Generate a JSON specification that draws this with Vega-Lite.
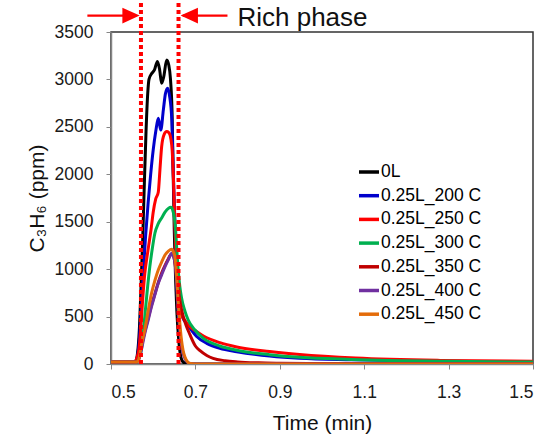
{
  "$schema": "https://vega.github.io/schema/vega-lite/v6.json",
  "width": 422,
  "height": 332,
  "autosize": {"type": "none"},
  "padding": {"left": 111, "top": 32, "right": 19, "bottom": 76},
  "config": {
    "font": "Liberation Sans",
    "view": {"stroke": "#333", "strokeWidth": 1.5},
    "axis": {
      "grid": false,
      "domainColor": "#868686",
      "domainWidth": 1.5,
      "tickColor": "#868686",
      "tickWidth": 1,
      "tickSize": 5,
      "labelFont": "Liberation Sans",
      "labelFontSize": 17.5,
      "labelColor": "#1a1a1a",
      "titleFont": "Liberation Sans",
      "titleFontSize": 21,
      "titleFontWeight": "normal",
      "titleColor": "#111"
    }
  },
  "datasets": {
    "curves": [
      {"s":"0L","t":0.5,"v":20},{"s":"0L","t":0.54,"v":20},{"s":"0L","t":0.558,"v":25},{"s":"0L","t":0.563,"v":120},{"s":"0L","t":0.567,"v":350},{"s":"0L","t":0.571,"v":800},{"s":"0L","t":0.575,"v":1300},{"s":"0L","t":0.579,"v":1900},{"s":"0L","t":0.583,"v":2450},{"s":"0L","t":0.587,"v":2850},{"s":"0L","t":0.59,"v":3000},{"s":"0L","t":0.596,"v":3060},{"s":"0L","t":0.603,"v":3100},{"s":"0L","t":0.61,"v":3190},{"s":"0L","t":0.615,"v":3110},{"s":"0L","t":0.62,"v":2960},{"s":"0L","t":0.625,"v":3030},{"s":"0L","t":0.632,"v":3205},{"s":"0L","t":0.637,"v":3150},{"s":"0L","t":0.641,"v":3000},{"s":"0L","t":0.645,"v":2600},{"s":"0L","t":0.647,"v":2080},{"s":"0L","t":0.65,"v":1400},{"s":"0L","t":0.653,"v":900},{"s":"0L","t":0.656,"v":560},{"s":"0L","t":0.66,"v":280},{"s":"0L","t":0.664,"v":110},{"s":"0L","t":0.67,"v":25},{"s":"0L","t":0.68,"v":3},{"s":"0L","t":0.7,"v":0},{"s":"0L","t":1.5,"v":0},

      {"s":"0.25L_200 C","t":0.5,"v":20},{"s":"0.25L_200 C","t":0.555,"v":20},{"s":"0.25L_200 C","t":0.562,"v":60},{"s":"0.25L_200 C","t":0.567,"v":250},{"s":"0.25L_200 C","t":0.572,"v":600},{"s":"0.25L_200 C","t":0.577,"v":1000},{"s":"0.25L_200 C","t":0.582,"v":1350},{"s":"0.25L_200 C","t":0.588,"v":1700},{"s":"0.25L_200 C","t":0.594,"v":2000},{"s":"0.25L_200 C","t":0.6,"v":2256},{"s":"0.25L_200 C","t":0.606,"v":2450},{"s":"0.25L_200 C","t":0.612,"v":2590},{"s":"0.25L_200 C","t":0.618,"v":2466},{"s":"0.25L_200 C","t":0.624,"v":2677},{"s":"0.25L_200 C","t":0.629,"v":2850},{"s":"0.25L_200 C","t":0.634,"v":2906},{"s":"0.25L_200 C","t":0.639,"v":2820},{"s":"0.25L_200 C","t":0.644,"v":2580},{"s":"0.25L_200 C","t":0.647,"v":2100},{"s":"0.25L_200 C","t":0.65,"v":1700},{"s":"0.25L_200 C","t":0.653,"v":1300},{"s":"0.25L_200 C","t":0.656,"v":1000},{"s":"0.25L_200 C","t":0.66,"v":750},{"s":"0.25L_200 C","t":0.665,"v":580},{"s":"0.25L_200 C","t":0.671,"v":480},{"s":"0.25L_200 C","t":0.679,"v":430},{"s":"0.25L_200 C","t":0.687,"v":380},{"s":"0.25L_200 C","t":0.703,"v":290},{"s":"0.25L_200 C","t":0.727,"v":218},{"s":"0.25L_200 C","t":0.758,"v":165},{"s":"0.25L_200 C","t":0.798,"v":130},{"s":"0.25L_200 C","t":0.876,"v":84},{"s":"0.25L_200 C","t":0.947,"v":60},{"s":"0.25L_200 C","t":1.07,"v":45},{"s":"0.25L_200 C","t":1.2,"v":35},{"s":"0.25L_200 C","t":1.3,"v":30},{"s":"0.25L_200 C","t":1.5,"v":22},

      {"s":"0.25L_250 C","t":0.5,"v":22},{"s":"0.25L_250 C","t":0.555,"v":22},{"s":"0.25L_250 C","t":0.561,"v":60},{"s":"0.25L_250 C","t":0.566,"v":150},{"s":"0.25L_250 C","t":0.571,"v":400},{"s":"0.25L_250 C","t":0.575,"v":675},{"s":"0.25L_250 C","t":0.58,"v":950},{"s":"0.25L_250 C","t":0.586,"v":1150},{"s":"0.25L_250 C","t":0.591,"v":1300},{"s":"0.25L_250 C","t":0.595,"v":1420},{"s":"0.25L_250 C","t":0.6,"v":1600},{"s":"0.25L_250 C","t":0.606,"v":1740},{"s":"0.25L_250 C","t":0.612,"v":1810},{"s":"0.25L_250 C","t":0.616,"v":2050},{"s":"0.25L_250 C","t":0.62,"v":2290},{"s":"0.25L_250 C","t":0.626,"v":2420},{"s":"0.25L_250 C","t":0.632,"v":2450},{"s":"0.25L_250 C","t":0.637,"v":2440},{"s":"0.25L_250 C","t":0.642,"v":2370},{"s":"0.25L_250 C","t":0.645,"v":2250},{"s":"0.25L_250 C","t":0.648,"v":1950},{"s":"0.25L_250 C","t":0.651,"v":1500},{"s":"0.25L_250 C","t":0.654,"v":1150},{"s":"0.25L_250 C","t":0.657,"v":860},{"s":"0.25L_250 C","t":0.66,"v":700},{"s":"0.25L_250 C","t":0.664,"v":580},{"s":"0.25L_250 C","t":0.668,"v":510},{"s":"0.25L_250 C","t":0.675,"v":460},{"s":"0.25L_250 C","t":0.683,"v":410},{"s":"0.25L_250 C","t":0.7,"v":350},{"s":"0.25L_250 C","t":0.719,"v":295},{"s":"0.25L_250 C","t":0.758,"v":225},{"s":"0.25L_250 C","t":0.798,"v":180},{"s":"0.25L_250 C","t":0.876,"v":132},{"s":"0.25L_250 C","t":0.947,"v":100},{"s":"0.25L_250 C","t":1.08,"v":62},{"s":"0.25L_250 C","t":1.28,"v":38},{"s":"0.25L_250 C","t":1.5,"v":30},

      {"s":"0.25L_300 C","t":0.5,"v":20},{"s":"0.25L_300 C","t":0.56,"v":20},{"s":"0.25L_300 C","t":0.566,"v":60},{"s":"0.25L_300 C","t":0.572,"v":150},{"s":"0.25L_300 C","t":0.576,"v":300},{"s":"0.25L_300 C","t":0.58,"v":499},{"s":"0.25L_300 C","t":0.586,"v":780},{"s":"0.25L_300 C","t":0.592,"v":1026},{"s":"0.25L_300 C","t":0.598,"v":1220},{"s":"0.25L_300 C","t":0.604,"v":1378},{"s":"0.25L_300 C","t":0.612,"v":1480},{"s":"0.25L_300 C","t":0.62,"v":1540},{"s":"0.25L_300 C","t":0.628,"v":1600},{"s":"0.25L_300 C","t":0.636,"v":1641},{"s":"0.25L_300 C","t":0.642,"v":1652},{"s":"0.25L_300 C","t":0.647,"v":1610},{"s":"0.25L_300 C","t":0.652,"v":1480},{"s":"0.25L_300 C","t":0.656,"v":1200},{"s":"0.25L_300 C","t":0.659,"v":1000},{"s":"0.25L_300 C","t":0.663,"v":820},{"s":"0.25L_300 C","t":0.667,"v":700},{"s":"0.25L_300 C","t":0.675,"v":560},{"s":"0.25L_300 C","t":0.683,"v":464},{"s":"0.25L_300 C","t":0.699,"v":358},{"s":"0.25L_300 C","t":0.719,"v":270},{"s":"0.25L_300 C","t":0.758,"v":190},{"s":"0.25L_300 C","t":0.798,"v":145},{"s":"0.25L_300 C","t":0.876,"v":98},{"s":"0.25L_300 C","t":0.947,"v":70},{"s":"0.25L_300 C","t":1.07,"v":48},{"s":"0.25L_300 C","t":1.3,"v":28},{"s":"0.25L_300 C","t":1.5,"v":20},

      {"s":"0.25L_350 C","t":0.5,"v":20},{"s":"0.25L_350 C","t":0.56,"v":20},{"s":"0.25L_350 C","t":0.566,"v":60},{"s":"0.25L_350 C","t":0.572,"v":180},{"s":"0.25L_350 C","t":0.58,"v":340},{"s":"0.25L_350 C","t":0.588,"v":480},{"s":"0.25L_350 C","t":0.596,"v":620},{"s":"0.25L_350 C","t":0.604,"v":740},{"s":"0.25L_350 C","t":0.612,"v":860},{"s":"0.25L_350 C","t":0.62,"v":960},{"s":"0.25L_350 C","t":0.628,"v":1040},{"s":"0.25L_350 C","t":0.636,"v":1110},{"s":"0.25L_350 C","t":0.643,"v":1160},{"s":"0.25L_350 C","t":0.648,"v":1140},{"s":"0.25L_350 C","t":0.652,"v":1050},{"s":"0.25L_350 C","t":0.656,"v":880},{"s":"0.25L_350 C","t":0.66,"v":760},{"s":"0.25L_350 C","t":0.665,"v":620},{"s":"0.25L_350 C","t":0.67,"v":520},{"s":"0.25L_350 C","t":0.677,"v":420},{"s":"0.25L_350 C","t":0.687,"v":310},{"s":"0.25L_350 C","t":0.7,"v":190},{"s":"0.25L_350 C","t":0.711,"v":140},{"s":"0.25L_350 C","t":0.727,"v":90},{"s":"0.25L_350 C","t":0.742,"v":60},{"s":"0.25L_350 C","t":0.77,"v":35},{"s":"0.25L_350 C","t":0.8,"v":22},{"s":"0.25L_350 C","t":0.85,"v":12},{"s":"0.25L_350 C","t":0.9,"v":8},{"s":"0.25L_350 C","t":1.0,"v":5},{"s":"0.25L_350 C","t":1.5,"v":3},

      {"s":"0.25L_400 C","t":0.5,"v":20},{"s":"0.25L_400 C","t":0.56,"v":20},{"s":"0.25L_400 C","t":0.566,"v":50},{"s":"0.25L_400 C","t":0.572,"v":150},{"s":"0.25L_400 C","t":0.58,"v":320},{"s":"0.25L_400 C","t":0.588,"v":460},{"s":"0.25L_400 C","t":0.596,"v":604},{"s":"0.25L_400 C","t":0.604,"v":730},{"s":"0.25L_400 C","t":0.612,"v":850},{"s":"0.25L_400 C","t":0.62,"v":940},{"s":"0.25L_400 C","t":0.628,"v":1026},{"s":"0.25L_400 C","t":0.636,"v":1100},{"s":"0.25L_400 C","t":0.644,"v":1167},{"s":"0.25L_400 C","t":0.649,"v":1120},{"s":"0.25L_400 C","t":0.653,"v":1026},{"s":"0.25L_400 C","t":0.656,"v":800},{"s":"0.25L_400 C","t":0.659,"v":569},{"s":"0.25L_400 C","t":0.663,"v":350},{"s":"0.25L_400 C","t":0.667,"v":200},{"s":"0.25L_400 C","t":0.671,"v":110},{"s":"0.25L_400 C","t":0.675,"v":60},{"s":"0.25L_400 C","t":0.683,"v":12},{"s":"0.25L_400 C","t":0.695,"v":2},{"s":"0.25L_400 C","t":0.71,"v":0},{"s":"0.25L_400 C","t":1.5,"v":0},

      {"s":"0.25L_450 C","t":0.5,"v":20},{"s":"0.25L_450 C","t":0.56,"v":20},{"s":"0.25L_450 C","t":0.565,"v":40},{"s":"0.25L_450 C","t":0.57,"v":150},{"s":"0.25L_450 C","t":0.575,"v":260},{"s":"0.25L_450 C","t":0.58,"v":358},{"s":"0.25L_450 C","t":0.588,"v":560},{"s":"0.25L_450 C","t":0.596,"v":745},{"s":"0.25L_450 C","t":0.604,"v":880},{"s":"0.25L_450 C","t":0.612,"v":991},{"s":"0.25L_450 C","t":0.62,"v":1075},{"s":"0.25L_450 C","t":0.628,"v":1149},{"s":"0.25L_450 C","t":0.636,"v":1190},{"s":"0.25L_450 C","t":0.644,"v":1209},{"s":"0.25L_450 C","t":0.648,"v":1180},{"s":"0.25L_450 C","t":0.652,"v":1114},{"s":"0.25L_450 C","t":0.656,"v":900},{"s":"0.25L_450 C","t":0.659,"v":675},{"s":"0.25L_450 C","t":0.663,"v":440},{"s":"0.25L_450 C","t":0.667,"v":253},{"s":"0.25L_450 C","t":0.671,"v":140},{"s":"0.25L_450 C","t":0.675,"v":77},{"s":"0.25L_450 C","t":0.681,"v":25},{"s":"0.25L_450 C","t":0.687,"v":5},{"s":"0.25L_450 C","t":0.7,"v":0},{"s":"0.25L_450 C","t":1.5,"v":0}
    ],
    "phase": [{"t": 0.571}, {"t": 0.66}],
    "arrows": [
      {"x1": 0.444, "x2": 0.56, "y": 3673, "tip": 0.568, "dir": "right"},
      {"x1": 0.67, "x2": 0.776, "y": 3673, "tip": 0.665, "dir": "left"}
    ],
    "label": [{"t": 0.7996, "v": 3560, "text": "Rich phase"}]
  },
  "layer": [
    {
      "data": {"name": "curves"},
      "mark": {"type": "line", "strokeWidth": 3, "interpolate": "monotone", "clip": true},
      "encoding": {
        "x": {"field": "t", "type": "quantitative",
              "scale": {"domain": [0.5, 1.5], "nice": false, "zero": false},
              "axis": {"values": [0.5, 0.7, 0.9, 1.1, 1.3, 1.5], "format": ".1f", "labelPadding": 14, "title": "Time (min)", "titlePadding": 12}},
        "y": {"field": "v", "type": "quantitative",
              "scale": {"domain": [0, 3500], "nice": false},
              "axis": {"values": [0, 500, 1000, 1500, 2000, 2500, 3000, 3500], "format": "d", "labelPadding": 13, "title": "C₃H₆ (ppm)", "titlePadding": 7}},
        "color": {"field": "s", "type": "nominal",
                  "scale": {"domain": ["0L", "0.25L_200 C", "0.25L_250 C", "0.25L_300 C", "0.25L_350 C", "0.25L_400 C", "0.25L_450 C"],
                            "range": ["#000000", "#0000CC", "#FF0000", "#00B050", "#C00000", "#7030A0", "#E46C0A"]},
                  "legend": {"orient": "none", "legendX": 246, "legendY": 128, "title": null, "symbolType": "stroke", "symbolStrokeWidth": 3.5, "symbolSize": 400, "labelFontSize": 17.5, "labelFont": "Liberation Sans", "labelColor": "#000", "labelOffset": 0, "rowPadding": 2.7}}
      }
    },
    {
      "data": {"name": "phase"},
      "mark": {"type": "rule", "color": "#FF0000", "strokeWidth": 4, "strokeDash": [4, 3]},
      "encoding": {
        "x": {"field": "t", "type": "quantitative"},
        "y": {"datum": 0},
        "y2": {"datum": 3840}
      }
    },
    {
      "data": {"name": "arrows"},
      "mark": {"type": "rule", "color": "#FF0000", "strokeWidth": 2.3},
      "encoding": {
        "x": {"field": "x1", "type": "quantitative"},
        "x2": {"field": "x2"},
        "y": {"field": "y", "type": "quantitative"}
      }
    },
    {
      "data": {"name": "arrows"},
      "transform": [{"filter": "datum.dir == 'right'"}],
      "mark": {"type": "point", "shape": "M0,0L-2,-0.9L-2,0.9Z", "filled": true, "color": "#FF0000", "size": 300, "opacity": 1},
      "encoding": {
        "x": {"field": "tip", "type": "quantitative"},
        "y": {"field": "y", "type": "quantitative"}
      }
    },
    {
      "data": {"name": "arrows"},
      "transform": [{"filter": "datum.dir == 'left'"}],
      "mark": {"type": "point", "shape": "M0,0L2,-0.9L2,0.9Z", "filled": true, "color": "#FF0000", "size": 300, "opacity": 1},
      "encoding": {
        "x": {"field": "tip", "type": "quantitative"},
        "y": {"field": "y", "type": "quantitative"}
      }
    },
    {
      "data": {"name": "label"},
      "mark": {"type": "text", "align": "left", "baseline": "alphabetic", "font": "Liberation Sans", "fontSize": 26, "color": "#111"},
      "encoding": {
        "x": {"field": "t", "type": "quantitative"},
        "y": {"field": "v", "type": "quantitative"},
        "text": {"field": "text"}
      }
    }
  ]
}
